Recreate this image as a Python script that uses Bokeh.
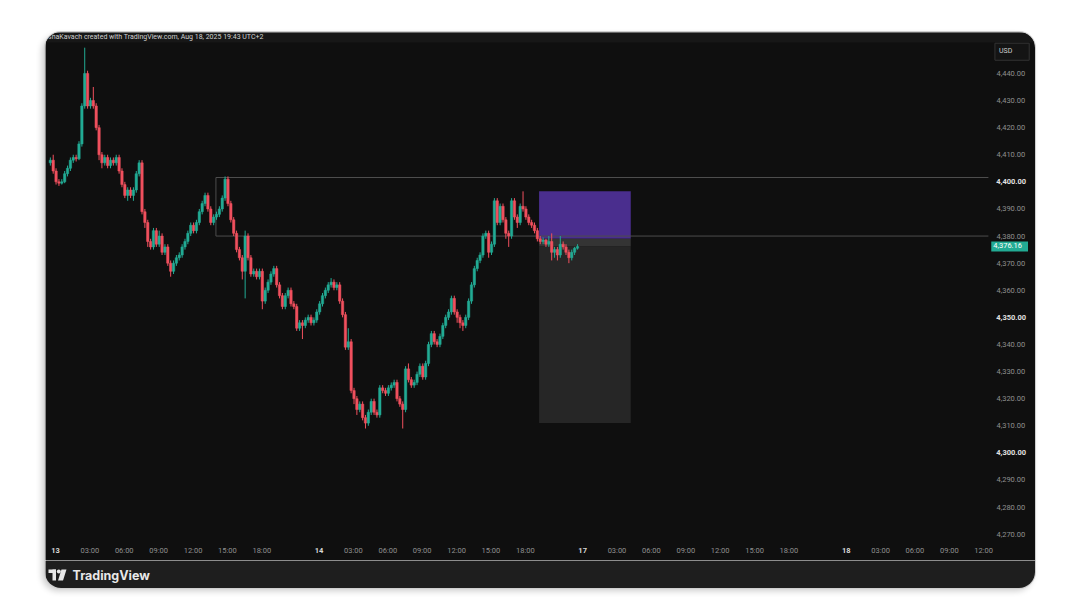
import numpy as np
from bokeh.plotting import figure
from bokeh.models import Range1d, FixedTicker, NumeralTickFormatter, Label, ColumnDataSource
from bokeh.layouts import column
from bokeh.embed import file_html
from bokeh.resources import INLINE
from bokeh.core.properties import value

# ---------------- data ----------------
header_text = "shaKavach created with TradingView.com, Aug 18, 2025 19:43 UTC+2"
currency = "USD"
brand = "TradingView"

first_open = 4407.0
closes = [
    4408, 4404, 4400, 4399.5, 4400, 4403, 4405, 4408, 4409, 4408.5,
    4414, 4428, 4440, 4428, 4430, 4428, 4420, 4410, 4407, 4409,
    4406, 4408, 4407, 4409, 4404, 4399, 4395, 4397, 4395, 4397,
    4403, 4407, 4389, 4385, 4378, 4376, 4382, 4377, 4380, 4374,
    4376, 4370, 4367, 4370, 4372, 4373, 4376, 4378, 4381, 4384,
    4382, 4385, 4389, 4392, 4395, 4390, 4385, 4387, 4388, 4390,
    4394, 4401, 4392, 4386, 4381, 4375, 4372, 4367, 4380, 4372,
    4366, 4367, 4365, 4367, 4356, 4360, 4363, 4366, 4368, 4362,
    4358, 4354, 4358, 4360, 4355, 4354, 4346, 4348, 4347, 4349,
    4350, 4348, 4349, 4352, 4355, 4358, 4360, 4362, 4363, 4361,
    4362, 4356, 4351, 4339, 4341, 4323, 4320, 4316, 4318, 4313,
    4311, 4315, 4319, 4315, 4314, 4324, 4323, 4322, 4324, 4325,
    4326, 4320, 4318, 4316, 4331, 4327, 4325, 4326, 4329, 4332,
    4328, 4333, 4340, 4344, 4341, 4340, 4343, 4347, 4350, 4352,
    4357, 4352, 4350, 4348, 4347, 4350, 4356, 4362, 4368, 4371,
    4373, 4380, 4381, 4374, 4377, 4393, 4385, 4391, 4386, 4381,
    4380, 4393, 4387, 4385, 4391, 4390, 4387, 4385, 4384, 4382,
    4379, 4378, 4378.5, 4377, 4378, 4374, 4375, 4373, 4377, 4376,
    4374, 4372, 4374, 4375.5, 4376.16,
]
highs = [
    4409, 4410, 4405, 4401, 4401, 4404, 4406, 4409, 4410, 4410,
    4415, 4429, 4449.5, 4441, 4431, 4435, 4429, 4421, 4411, 4410,
    4410, 4409, 4409, 4410, 4410, 4405, 4400, 4398, 4398, 4398,
    4404, 4408, 4408, 4390, 4386, 4379, 4383, 4383, 4382, 4381,
    4377, 4377, 4371, 4371, 4373, 4374, 4377, 4379, 4382, 4385,
    4385, 4386, 4390, 4393, 4396, 4396, 4391, 4388, 4389, 4391,
    4395, 4402, 4402, 4393, 4387, 4382, 4376, 4373, 4382, 4381,
    4373, 4368, 4368, 4368, 4368, 4361, 4364, 4367, 4369, 4369,
    4363, 4359, 4359, 4361, 4361, 4356, 4355, 4349, 4349, 4350,
    4351, 4351, 4350, 4353, 4356, 4359, 4361, 4363, 4364.5, 4364,
    4363, 4363, 4357, 4352, 4346, 4342, 4324, 4321, 4319, 4319,
    4314, 4316, 4320, 4320, 4316, 4325, 4325, 4324, 4325, 4326,
    4327, 4327, 4321, 4319, 4332, 4333, 4328, 4327, 4330, 4333,
    4333, 4334, 4341, 4345, 4345, 4342, 4344, 4348, 4351, 4353,
    4358, 4358, 4353, 4351, 4349, 4351, 4357, 4363, 4369, 4372,
    4374, 4381, 4382, 4382, 4378, 4394, 4394, 4392, 4392, 4387,
    4382, 4394, 4394, 4388, 4392, 4396.5, 4391, 4388, 4386, 4385,
    4383, 4380, 4379.5, 4379, 4380, 4381, 4376, 4376, 4380, 4378,
    4377, 4375, 4375, 4376, 4377,
]
lows = [
    4406, 4403, 4399, 4398.5, 4399, 4399.5, 4402, 4404, 4407, 4407.5,
    4408, 4413, 4427, 4427, 4427, 4427, 4419, 4408, 4405, 4406,
    4405, 4405, 4406, 4406, 4403, 4398, 4394, 4393, 4394, 4393,
    4396, 4402, 4388, 4383, 4376, 4375, 4375, 4376, 4376, 4373,
    4373, 4369, 4365, 4366, 4369, 4371, 4372, 4375, 4377, 4380,
    4381, 4381, 4384, 4388, 4391, 4389, 4384, 4384, 4386, 4387,
    4389, 4393, 4391, 4385, 4380, 4374, 4371, 4364, 4357, 4371,
    4365, 4365, 4364, 4364, 4353, 4355, 4359, 4362, 4365, 4361,
    4357, 4353, 4353, 4357, 4354, 4353, 4345, 4345, 4342, 4346,
    4348, 4347, 4347, 4348, 4351, 4354, 4357, 4359, 4361, 4360,
    4360, 4355, 4350, 4338, 4338, 4322, 4318, 4314, 4315, 4312,
    4309, 4310, 4314, 4314, 4313, 4313, 4322, 4321, 4321, 4323,
    4324, 4319, 4317, 4309, 4315, 4326, 4324, 4324, 4325, 4328,
    4327, 4327, 4332, 4339, 4340, 4339, 4339, 4342, 4346, 4349,
    4351, 4351, 4348, 4346, 4345, 4346, 4349, 4355, 4361, 4367,
    4370, 4372, 4379, 4372, 4373, 4376, 4384, 4384, 4385, 4379,
    4376, 4379, 4386, 4383, 4384, 4389, 4386, 4384, 4383, 4381,
    4378, 4377, 4377, 4376, 4376, 4371, 4372, 4371, 4372, 4375,
    4373, 4370, 4371, 4373, 4375,
]
bar_hours = 0.25          # 15-minute candles, in trading hours
start_hour = -0.45        # first candle, trading hours from the "13" session start

x_tick_hours = [0, 3, 6, 9, 12, 15, 18,
                23, 26, 29, 32, 35, 38, 41,
                46, 49, 52, 55, 58, 61, 64,
                69, 72, 75, 78, 81]
x_tick_labels = ["13", "03:00", "06:00", "09:00", "12:00", "15:00", "18:00",
                 "14", "03:00", "06:00", "09:00", "12:00", "15:00", "18:00",
                 "17", "03:00", "06:00", "09:00", "12:00", "15:00", "18:00",
                 "18", "03:00", "06:00", "09:00", "12:00"]
day_ticks = [0, 23, 46, 69]
y_ticks = list(range(4270, 4450, 10))
y_bold_ticks = [4400, 4350, 4300]

zone_start = 14.0
zone_top = 4401.6
zone_bottom = 4380.0

pos_start = 42.2
pos_end = 50.2
pos_stop = 4396.5
pos_entry = 4379.0
pos_target = 4311.0
last_price = closes[-1]

# ---------------- styles ----------------
UP = "#22ab94"
DOWN = "#f0505e"
BG = "#0f0f0f"
FONT = "Roboto"

# the frame covers the whole card; the price pane ends at CHART_R / CHART_B
X0, X1 = -0.873, 85.52
Y0, Y1 = 4260.3, 4455.1
CHART_R = 81.41
CHART_B = 4267.3
CHART_T = 4451.4

p = figure(width=990, height=528, x_range=Range1d(X0, X1), y_range=Range1d(Y0, Y1),
           output_backend="svg", toolbar_location=None, y_axis_location="right",
           min_border_left=0, min_border_right=0, min_border_top=0, min_border_bottom=0)
p.background_fill_color = BG
p.border_fill_color = BG
p.outline_line_color = None
p.grid.visible = False

# axes (labels drawn back inside the card)
p.yaxis.ticker = FixedTicker(ticks=y_ticks)
p.yaxis.formatter = NumeralTickFormatter(format="0,0.00")
p.yaxis.major_label_overrides = {t: "" for t in y_bold_ticks}
p.xaxis.ticker = FixedTicker(ticks=x_tick_hours)
p.xaxis.major_label_overrides = {t: ("" if t in day_ticks else l) for t, l in zip(x_tick_hours, x_tick_labels)}
for ax in (p.xaxis, p.yaxis):
    ax.axis_line_color = None
    ax.major_tick_line_color = None
    ax.minor_tick_line_color = None
    ax.major_tick_in = 0
    ax.major_tick_out = 0
    ax.minor_tick_in = 0
    ax.minor_tick_out = 0
    ax.major_label_text_font = FONT
    ax.major_label_text_font_size = "7.5px"
    ax.major_label_text_color = "#8f8f8f"
p.yaxis.major_label_standoff = -39
p.xaxis.major_label_standoff = -15

# header strip
p.quad(left=X0, right=X1, top=Y1, bottom=CHART_T, fill_color="#171717", line_color=None)

# position boxes
p.quad(left=pos_start, right=pos_end, top=pos_stop, bottom=pos_entry,
       fill_color="#4a2e8e", line_color=None)
p.quad(left=pos_start, right=pos_end, top=pos_entry, bottom=last_price,
       fill_color="#343434", line_color=None)
p.quad(left=pos_start, right=pos_end, top=last_price, bottom=pos_target,
       fill_color="#262626", line_color=None)

# zone lines
p.segment(x0=[zone_start, zone_start, zone_start], y0=[zone_top, zone_bottom, zone_bottom],
          x1=[CHART_R, CHART_R, zone_start], y1=[zone_top, zone_bottom, zone_top],
          line_color="#4d4d4d", line_width=1)

# candles
n = len(closes)
xs = start_hour + bar_hours * np.arange(n)
opens = [first_open] + closes[:-1]
o = np.array(opens, dtype=float)
c = np.array(closes, dtype=float)
h = np.maximum(np.array(highs, dtype=float), np.maximum(o, c))
l = np.minimum(np.array(lows, dtype=float), np.minimum(o, c))
cols = [UP if cc >= oo else DOWN for oo, cc in zip(o, c)]
src = ColumnDataSource(dict(x=xs, o=o, c=c, h=h, l=l, top=np.maximum(o, c),
                            bot=np.minimum(o, c), col=cols))
p.segment(x0="x", y0="h", x1="x", y1="l", source=src, line_color="col", line_width=1)
p.vbar(x="x", width=0.21, top="top", bottom="bot", source=src, fill_color="col", line_color="col",
       line_width=0.5)

# bold / bright labels
for t, lab in zip(x_tick_hours, x_tick_labels):
    if t in day_ticks:
        p.add_layout(Label(x=t, y=4264.0, text=lab, text_align="center", text_baseline="middle",
                           text_font=FONT, text_font_size="7.5px", text_font_style="bold",
                           text_color="#d8d8d8"))
for t in y_bold_ticks:
    p.add_layout(Label(x=82.1, y=t, text=f"{t:,.2f}", text_align="left", text_baseline="middle",
                       text_font=FONT, text_font_size="7.5px", text_font_style="bold",
                       text_color="#e0e0e0"))

# header
p.add_layout(Label(x=-0.65, y=4453.3, text=header_text, text_align="left", text_baseline="middle",
                   text_font=FONT, text_font_size="7px", text_color="#d0d0d0"))
# currency box
p.add_layout(Label(x=81.98, y=4448.0, text=currency, text_align="left", text_baseline="middle",
                   text_font=FONT, text_font_size="7px", text_color="#cfcfcf",
                   border_line_color="#333333", background_fill_color="#141414",
                   padding=[4, 17, 4, 5]))
# last price tag
p.add_layout(Label(x=81.66, y=last_price, text=f"{last_price:,.2f}", text_align="left",
                   text_baseline="middle", text_font=FONT, text_font_size="7.5px",
                   text_color="#ffffff", background_fill_color=UP, padding=[2, 6, 2, 3]))

# ---------------- footer ----------------
f = figure(width=990, height=28, x_range=Range1d(0, 990), y_range=Range1d(0, 28),
           output_backend="svg", toolbar_location=None, x_axis_type=None, y_axis_type=None,
           min_border=0)
f.background_fill_color = "#1e1e1e"
f.border_fill_color = "#1e1e1e"
f.outline_line_color = None
f.grid.visible = False
f.quad(left=[3, 7], right=[10.5, 10.5], top=[19, 19], bottom=[15.5, 8], fill_color="#e8e8e8",
       line_color=None)
f.scatter(x=[13.3], y=[17], size=4, fill_color="#e8e8e8", line_color=None)
f.patch(x=[16, 21, 17.5, 12.5], y=[19, 19, 8, 8], fill_color="#e8e8e8", line_color=None)
f.text(x=[27], y=[13.5], text=[brand], text_font=value("Inter"), text_font_size="12.5px",
       text_font_style="bold", text_color="#e8e8e8", text_baseline="middle", text_align="left")

layout = column(p, f, spacing=0, margin=(32, 0, 0, 45),
                styles={"border-radius": "16px", "overflow": "hidden",
                        "box-shadow": "0 0 0 1px #cfcfcf, -3px 3px 6px rgba(0,0,0,0.20)"})

open("out.html", "w").write(file_html(layout, INLINE))
